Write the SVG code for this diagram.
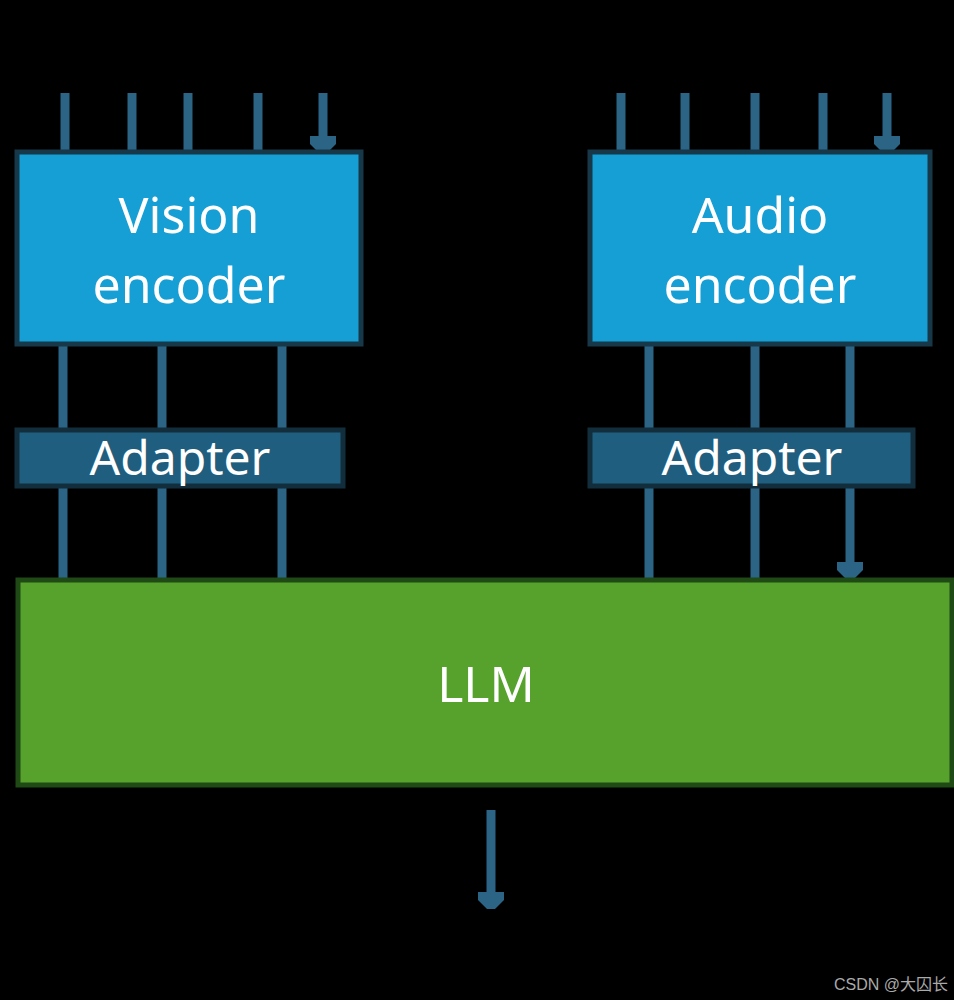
<svg xmlns="http://www.w3.org/2000/svg" width="954" height="1000" viewBox="0 0 954 1000">
<style>
.ln{stroke:#2b6485;stroke-width:9;fill:none}
.t{font-family:"Noto Sans","Liberation Sans",sans-serif;fill:#fff;text-anchor:middle}
</style>
<defs>
<marker id="ah" markerUnits="userSpaceOnUse" markerWidth="28" markerHeight="22" refX="14" refY="20" orient="auto-start-reverse" viewBox="0 0 28 22">
<path d="M1,6 H27 V12 L17,21 H11 L1,12 Z" fill="#2b6485" transform="rotate(-90 14 11) translate(0,0)"/>
</marker>
<marker id="hd" markerUnits="userSpaceOnUse" markerWidth="28" markerHeight="22" refX="14" refY="20" orient="0" viewBox="0 0 28 22">
<path d="M1,4 H27 V12 L18,21 H10 L1,12 Z" fill="#2b6485"/>
</marker>
</defs>
<rect width="954" height="1000" fill="#000"/>
<g id="connectors">
<path class="ln" marker-end="url(#hd)" d="M65,93V152M132,93V152M188,93V152M258,93V152M323,93V152"/>
<path class="ln" marker-end="url(#hd)" d="M621,93V152M685,93V152M755,93V152M823,93V152M887,93V152"/>
<path class="ln" d="M63,346V430M162,346V430M282,346V430M649,346V430M755,346V430M850,346V430"/>
<path class="ln" marker-end="url(#hd)" d="M63,486V578M162,486V578M282,486V578M649,486V578M755,486V578M850,486V578"/>
<path class="ln" marker-end="url(#hd)" d="M491,810V908"/>
</g>
<g id="vision">
<rect x="17" y="152" width="344" height="192" fill="#159fd4" stroke="#163848" stroke-width="5"/>
<text class="t" x="189" y="233" font-size="50">Vision</text>
<text class="t" x="189" y="303" font-size="50">encoder</text>
</g>
<g id="audio">
<rect x="590" y="152" width="340" height="192" fill="#159fd4" stroke="#163848" stroke-width="5"/>
<text class="t" x="760" y="233" font-size="50">Audio</text>
<text class="t" x="760" y="303" font-size="50">encoder</text>
</g>
<g id="adapter1">
<rect x="17" y="430" width="326" height="56" fill="#1f5e7e" stroke="#122e3c" stroke-width="5"/>
<text class="t" x="180" y="475" font-size="48">Adapter</text>
</g>
<g id="adapter2">
<rect x="590" y="430" width="323" height="56" fill="#1f5e7e" stroke="#122e3c" stroke-width="5"/>
<text class="t" x="752" y="475" font-size="48">Adapter</text>
</g>
<g id="llm">
<rect x="18" y="580" width="934" height="205" fill="#56a22c" stroke="#1f4a15" stroke-width="5"/>
<text class="t" x="486" y="702" font-size="50">LLM</text>
</g>
<text x="948" y="990" font-family="'Liberation Sans','Noto Sans CJK SC',sans-serif" font-size="16" fill="#aaa" text-anchor="end">CSDN @大囚长</text>
</svg>
